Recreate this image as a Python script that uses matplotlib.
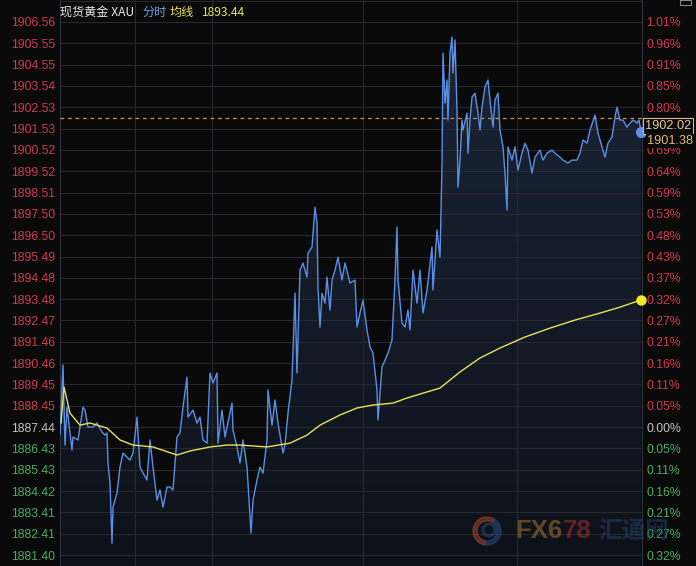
import matplotlib
matplotlib.use("Agg")
import matplotlib.pyplot as plt
import numpy as np
from matplotlib.patches import Circle, Wedge

# ---------------- data ----------------
base_price = 1887.44
last_price = 1901.38
ref_price = 1902.02
avg_last = 1893.44

grid_top = 1907.57  # grid line above the top labelled level (no label shown)
left_tick_labels = ["1906.56", "1905.55", "1904.55", "1903.54", "1902.53", "1901.53",
                    "1900.52", "1899.52", "1898.51", "1897.50", "1896.50", "1895.49",
                    "1894.48", "1893.48", "1892.47", "1891.46", "1890.46", "1889.45",
                    "1888.45", "1887.44", "1886.43", "1885.43", "1884.42", "1883.41",
                    "1882.41", "1881.40"]
right_tick_labels = ["1.01%", "0.96%", "0.91%", "0.85%", "0.80%", "0.75%", "0.69%",
                     "0.64%", "0.59%", "0.53%", "0.48%", "0.43%", "0.37%", "0.32%",
                     "0.27%", "0.21%", "0.16%", "0.11%", "0.05%", "0.00%", "0.05%",
                     "0.11%", "0.16%", "0.21%", "0.27%", "0.32%"]
tick_sign = [1] * 19 + [0] + [-1] * 6  # above / at / below previous close
hidden_right = ["0.75%"]  # covered by the price tag in the reference

# minutes since session start, price
t_price = [0, 3, 5, 7, 12, 13, 18, 23, 25, 28, 33, 37, 42, 45, 47, 48, 50, 52, 53, 57,
           60, 63, 70, 73, 77, 80, 83, 87, 90, 93, 97, 100, 103, 107, 110, 113, 117, 120,
           123, 127, 128, 133, 137, 140, 143, 147, 150, 153, 157, 158, 162, 165, 170, 172,
           173, 177, 180, 183, 187, 190, 191, 193, 197, 200, 203, 207, 208, 212, 215, 218,
           223, 225, 228, 232, 235, 237, 240, 243, 247, 248, 252, 255, 257, 258, 260, 262,
           265, 267, 270, 272, 275, 278, 282, 285, 290, 295, 297, 300, 303, 307, 310, 313,
           317, 318, 322, 325, 328, 332, 335, 337, 338, 342, 345, 348, 350, 353, 357, 360,
           363, 367, 372, 373, 377, 380, 381, 382, 383, 385, 387, 388, 390, 392, 393, 395,
           397, 398, 400, 402, 403, 407, 408, 410, 412, 415, 418, 420, 422, 425, 428, 430,
           433, 435, 438, 440, 443, 445, 447, 448, 452, 455, 458, 462, 465, 468, 472, 475,
           480, 483, 487, 492, 495, 500, 503, 508, 512, 517, 520, 523, 527, 530, 535, 538,
           542, 545, 548, 552, 555, 557, 560, 563, 567, 570, 573, 577, 579, 581]
price = [1887.06, 1890.37, 1886.59, 1888.38, 1886.35, 1886.97, 1886.83, 1888.38, 1888.24,
         1887.44, 1887.44, 1887.63, 1887.20, 1887.06, 1887.16, 1885.74, 1884.80, 1881.96,
         1883.66, 1884.32, 1885.55, 1886.21, 1885.88, 1886.21, 1887.91, 1885.55, 1885.27,
         1884.94, 1886.83, 1885.55, 1883.99, 1884.47, 1883.66, 1884.61, 1884.61, 1884.47,
         1886.97, 1887.16, 1888.38, 1889.80, 1887.91, 1888.24, 1887.63, 1887.91, 1886.83,
         1886.68, 1889.99, 1889.52, 1889.99, 1886.68, 1888.24, 1886.97, 1888.10, 1888.57,
         1887.30, 1886.50, 1885.74, 1886.83, 1885.55, 1883.19, 1882.44, 1883.99, 1884.94,
         1885.55, 1885.27, 1886.83, 1889.19, 1887.53, 1888.71, 1887.63, 1886.21, 1886.59,
         1888.10, 1889.66, 1893.76, 1889.99, 1894.85, 1895.18, 1894.52, 1895.65, 1895.94,
         1897.82, 1897.07, 1894.05, 1892.16, 1893.76, 1893.29, 1894.52, 1892.96, 1894.38,
         1894.85, 1895.46, 1894.38, 1895.18, 1894.24, 1894.38, 1892.16, 1892.82, 1893.43,
         1892.02, 1891.22, 1890.93, 1889.19, 1887.77, 1890.27, 1890.60, 1890.93, 1891.55,
         1894.38, 1896.88, 1894.38, 1892.35, 1892.16, 1892.96, 1892.02, 1894.85, 1893.29,
         1894.85, 1892.82, 1893.91, 1895.94, 1893.91, 1896.74, 1895.46, 1897.54, 1899.90,
         1905.09, 1902.73, 1903.82, 1901.93, 1905.09, 1905.85, 1904.15, 1905.71, 1902.40,
         1898.77, 1900.04, 1901.93, 1901.46, 1902.26, 1900.37, 1901.93, 1903.02, 1903.20,
         1902.26, 1901.46, 1902.54, 1903.49, 1903.82, 1902.87, 1901.60, 1902.87, 1903.20,
         1901.46, 1900.66, 1899.43, 1897.68, 1900.66, 1900.04, 1900.66, 1899.57, 1900.37,
         1900.84, 1900.51, 1899.43, 1900.18, 1900.51, 1900.04, 1900.37, 1900.51, 1900.37,
         1900.18, 1900.04, 1899.90, 1900.04, 1900.04, 1900.37, 1900.99, 1900.84, 1901.46,
         1902.17, 1901.32, 1900.66, 1900.18, 1900.84, 1901.13, 1902.07, 1902.54, 1901.93,
         1901.93, 1901.60, 1901.79, 1901.93, 1901.79, 1901.93, 1901.38]

t_avg = [1, 4, 10, 20, 30, 47, 60, 73, 93, 117, 130, 150, 167, 180, 207, 230, 247, 260,
         280, 297, 313, 333, 347, 363, 380, 400, 420, 440, 465, 490, 515, 540, 560, 581]
avg = [1887.63, 1889.33, 1888.10, 1887.53, 1887.63, 1887.39, 1886.83, 1886.59, 1886.50,
       1886.12, 1886.31, 1886.50, 1886.59, 1886.59, 1886.50, 1886.68, 1887.06, 1887.53,
       1888.01, 1888.34, 1888.48, 1888.57, 1888.81, 1889.04, 1889.28, 1890.04, 1890.70,
       1891.17, 1891.69, 1892.11, 1892.49, 1892.82, 1893.10, 1893.44]

time_grid = [75, 152, 303, 457]
session_len = 582

# ---------------- style ----------------
BG = "#0a0a0a"
GRID = "#262a30"
BLUE = "#5b8fe6"
YELLOW = "#e6e25a"
RED = "#cf3b4e"
GREEN = "#47ad5e"
GRAY = "#c4c4c4"
NUM_FONT = "Liberation Sans"
CJK = ["Noto Sans CJK SC", "DejaVu Sans"]

W, H = 696, 566
fig = plt.figure(figsize=(W / 100, H / 100), dpi=100, facecolor=BG)
ax = fig.add_axes([60 / W, 0, 582 / W, 1])
ax.set_facecolor(BG)

tick_vals = [float(s) for s in left_tick_labels]
step = (tick_vals[0] - tick_vals[-1]) / 25.0
ymax = tick_vals[0] + 22 * step / 21.32
ymin = tick_vals[-1] - 11 * step / 21.32
ax.set_ylim(ymin, ymax)
ax.set_xlim(0, session_len)

# gradient fill below price line
tp = np.array(t_price, float)
pp = np.array(price, float)
poly = ax.fill_between(tp, pp, ymin, color="none", lw=0)
grad = np.linspace(0, 1, 256).reshape(-1, 1)
c_top = np.array([27, 38, 56]) / 255
c_bot = np.array([13, 17, 25]) / 255
img = (c_bot + (c_top - c_bot) * grad).reshape(256, 1, 3)
im = ax.imshow(img, extent=[0, session_len, ymin, ymax], origin="lower",
               aspect="auto", zorder=1)
im.set_clip_path(poly.get_paths()[0], transform=ax.transData)

# grid
for v in tick_vals + [grid_top]:
    ax.axhline(v, color=GRID, lw=0.8, zorder=2)
for tg in time_grid:
    ax.axvline(tg, color=GRID, lw=0.8, zorder=2)

ax.plot(tp, pp, color=BLUE, lw=1.0, zorder=4)
ax.plot(t_avg, avg, color=YELLOW, lw=1.0, zorder=5)
ax.axhline(ref_price, color="#d98c45", lw=0.9, ls=(0, (3, 3)), zorder=3)
ax.plot([t_price[-1]], [last_price], "o", ms=7, color=BLUE, zorder=6, clip_on=False)
ax.plot([t_avg[-1]], [avg_last], "o", ms=6.5, color="#f2ea2a", zorder=6, clip_on=False)

for s in ["top", "bottom"]:
    ax.spines[s].set_visible(False)
for s in ["left", "right"]:
    ax.spines[s].set_color("#30343a")
    ax.spines[s].set_linewidth(0.8)
ax.set_xticks([])

def col(sign):
    return RED if sign > 0 else (GRAY if sign == 0 else GREEN)

ax.set_yticks(tick_vals)
ax.set_yticklabels(left_tick_labels, fontfamily=NUM_FONT, fontsize=8.8)
ax.tick_params(axis="y", length=0, pad=3.5)
for lab, sg in zip(ax.get_yticklabels(), tick_sign):
    lab.set_color(col(sg))

ax2 = ax.twinx()
ax2.set_ylim(ymin, ymax)
ax2.set_yticks(tick_vals)
ax2.set_yticklabels(right_tick_labels, fontfamily=NUM_FONT, fontsize=8.8)
ax2.tick_params(axis="y", length=0, pad=3)
for i, (lab, sg) in enumerate(zip(ax2.get_yticklabels(), tick_sign)):
    lab.set_color(col(sg))
    if right_tick_labels[i] in hidden_right and tick_sign[i] > 0:
        lab.set_visible(False)
for s in ax2.spines.values():
    s.set_visible(False)

# price labels on the right
def px(x, y):
    return x / W, 1 - y / H

fig.text(*px(645, 126), f"{ref_price:.2f}", fontfamily=NUM_FONT, fontsize=9.2,
         color="#e8c79a", va="center", ha="left", zorder=10,
         bbox=dict(boxstyle="square,pad=0.15", fc=BG, ec="#d8b88c", lw=0.8))
fig.text(*px(647, 141), f"{last_price:.2f}", fontfamily=NUM_FONT, fontsize=9.2,
         color="#e0b880", va="center", ha="left", zorder=10,
         bbox=dict(boxstyle="square,pad=0.05", fc=BG, ec="none"))

# header
hy = 1 - 12 / H
fig.text(60 / W, hy, "现货黄金 XAU", fontfamily=CJK, fontsize=8.7, color="#e8e8e8", va="center")
fig.text(142 / W, hy, "分时", fontfamily=CJK, fontsize=8.7, color="#6f9de0", va="center")
fig.text(170 / W, hy, "均线", fontfamily=CJK, fontsize=8.7, color=YELLOW, va="center")
fig.text(202 / W, hy, f"{avg_last:.2f}", fontfamily=CJK, fontsize=8.7, color=YELLOW, va="center")

# watermark
wax = fig.add_axes([0, 0, 1, 1], facecolor="none")
wax.set_xlim(0, W)
wax.set_ylim(H, 0)
wax.axis("off")
wax.add_patch(Wedge((487, 531), 14, 100, 300, width=4, color="#a0452a", alpha=0.55))
wax.add_patch(Wedge((487, 531), 14, 300, 100, width=4, color="#2c4a78", alpha=0.55))
wax.add_patch(Circle((489, 530), 6, fc="none", ec="#2c4a78", lw=2, alpha=0.55))
t1 = wax.text(515, 531, "FX6", fontfamily=NUM_FONT, fontweight="bold", fontsize=18.5,
              color="#9a6a30", alpha=0.6, va="center", ha="left")
fig.canvas.draw()
bb = t1.get_window_extent()
x_next = wax.transData.inverted().transform((bb.x1 + 0.5, bb.y0))[0]
wax.text(x_next, 531, "78", fontfamily=NUM_FONT, fontweight="bold", fontsize=18.5,
         color="#9a2e2e", alpha=0.6, va="center", ha="left")
wax.text(598, 531, "汇通网", fontfamily=CJK, fontweight="bold", fontsize=17,
         color="#2c4a78", alpha=0.45, va="center", ha="left")
wax.add_patch(plt.Rectangle((680, 0), 11, 5, fc="none", ec="#888888", lw=0.8))

fig.savefig("out.png", dpi=100, facecolor=BG)
